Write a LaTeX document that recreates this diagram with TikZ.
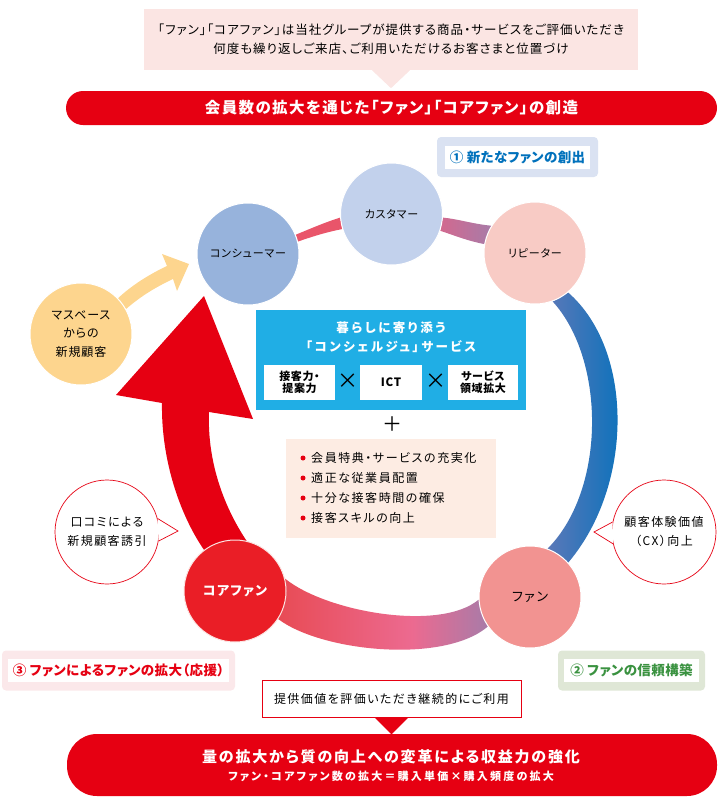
\documentclass[tikz,border=0pt]{standalone}
\usepackage{fontspec}
\setmainfont[RawFeature={+palt}]{Noto Sans CJK JP}
\usetikzlibrary{calc,backgrounds}
\definecolor{brandred}{HTML}{E60012}
\definecolor{coralband}{HTML}{E9556A}
\definecolor{notepink}{HTML}{FBE5E3}
\definecolor{peach}{HTML}{FDECE3}
\definecolor{skyblue}{HTML}{20AEE5}
\definecolor{consumerblue}{HTML}{97B3DC}
\definecolor{customerblue}{HTML}{C2D1EC}
\definecolor{repeaterpink}{HTML}{F8CBC5}
\definecolor{fanrose}{HTML}{F29391}
\definecolor{corered}{HTML}{EA1E26}
\definecolor{massyellow}{HTML}{FDD58E}
\definecolor{fanblue}{HTML}{0071BC}
\definecolor{fangreen}{HTML}{3A9240}
\definecolor{badgeblue}{HTML}{DAE2F2}
\definecolor{badgegreen}{HTML}{DFE7D6}
\definecolor{badgepink}{HTML}{FBE8EA}
\definecolor{bandpurple}{HTML}{A87BA8}
\definecolor{bandpink}{HTML}{EC6A90}
\definecolor{bandmauve}{HTML}{D2698F}
\definecolor{bandcobalt}{HTML}{5A78B8}
\definecolor{bandsalmon}{HTML}{E84B55}
\pgfdeclarehorizontalshading{fanband}{100bp}{color(0bp)=(bandsalmon); color(25bp)=(bandsalmon); color(57bp)=(bandpink); color(75bp)=(bandpurple); color(100bp)=(bandpurple)}
\newcommand{\jp}[3]{\fontsize{#1}{#2}\selectfont\addfontfeature{LetterSpace=#3}}
\tikzset{
  stage/.style={circle, minimum size=102pt, inner sep=0pt, draw=white, line width=1pt, fill=#1, align=center, font=\jp{11}{15}{7}},
  bar/.style={fill=brandred, text=white, align=center, inner sep=0pt},
  badgeback/.style={rounded corners=4pt, inner sep=0pt, minimum height=40pt, fill=#1},
  badgeface/.style={inner sep=0pt, minimum height=23pt, fill=white, text=#1, font=\bfseries\jp{13.5}{16}{3}},
  cell/.style={fill=white, inner sep=0pt, minimum height=35pt, align=center, font=\bfseries\jp{11}{12}{6}},
  bubble/.style={circle, minimum size=104pt, inner sep=0pt, draw=brandred, line width=.7pt, fill=white, align=center, font=\jp{12}{19}{12}},
  item/.style={anchor=west, inner sep=0pt, font=\jp{12}{14}{13}},
  dot/.style={circle, fill=brandred, minimum size=5pt, inner sep=0pt}
}
\begin{document}
\begin{tikzpicture}[x=1pt, y=-1pt]
\useasboundingbox (0,0) rectangle (722,806);
\node[fill=notepink, minimum width=494pt, minimum height=61pt, inner sep=0pt, align=center, font=\jp{12.5}{19}{8}] (topnote) at (391,39.5)
  {「ファン」「コアファン」は当社グループが提供する商品・サービスをご評価いただき\\何度も繰り返しご来店、ご利用いただけるお客さまと位置づけ};
\fill[notepink] ($(topnote.south)+(-19,0)$) -- ($(topnote.south)+(19,0)$) -- ($(topnote.south)+(0,18)$) -- cycle;
\node[bar, rounded corners=17pt, minimum width=651pt, minimum height=34pt, font=\bfseries\jp{15.5}{18}{9}] (topbar) at (391.5,108)
  {会員数の拡大を通じた「ファン」「コアファン」の創造};
\node[badgeback=badgeblue, minimum width=161pt] (badgeoneback) at (517.5,157) {};
\node[badgeface=fanblue, minimum width=145pt] (badgeone) at (517.5,157) {① 新たなファンの創出};
\node[stage=consumerblue] (consumer) at (248,254) {コンシューマー};
\node[stage=customerblue] (customer) at (391.5,214) {カスタマー};
\node[stage=repeaterpink] (repeater) at (535,253) {リピーター};
\node[stage=fanrose, font=\jp{13}{15}{12}] (fan) at (530,597) {ファン};
\node[stage=corered, text=white, draw=notepink, font=\bfseries\jp{13}{15}{10}] (core) at (235,591) {コアファン};
\node[stage=massyellow, font=\jp{12}{18.5}{8}] (mass) at (81,334) {マスベース\\からの\\新規顧客};
\begin{scope}[on background layer]
\fill[coralband] (consumer.22) .. controls (312,228) and (326,222) .. (customer.184)
  -- (customer.197) .. controls (327,232) and (314,236) .. (consumer.14) -- cycle;
\shade[left color=bandmauve, right color=bandpurple] (customer.-4) .. controls (458,219) and (473,224) .. (repeater.148)
  -- (repeater.170) .. controls (468,241) and (456,236) .. (customer.-19) -- cycle;
\shade[left color=bandcobalt, right color=fanblue] (repeater.-50) .. controls (634,350) and (634,485) .. (fan.42)
  -- (fan.70) .. controls (606,490) and (606,360) .. (repeater.-70) -- cycle;
\shade[shading=fanband] (core.14) .. controls (326,612) and (440,632) .. (fan.183)
  -- (fan.215) .. controls (444,664) and (322,652) .. (core.-33) -- cycle;
\fill[brandred] (204,296) -- (253,419) -- (209,412) .. controls (207,465) and (226,510) .. (core.77)
  -- (core.127) .. controls (180,515) and (161,460) .. (162,403) -- (116,395) -- cycle;
\fill[massyellow] (mass.44) .. controls (132,285) and (150,274) .. (167,266) -- (162,254) -- (189,264) -- (177,291) -- (173,279)
  .. controls (156,287) and (141,296) .. (mass.29) -- cycle;
\end{scope}
\node[fill=skyblue, minimum width=270pt, minimum height=100pt, inner sep=0pt] (servicebox) at (391,360) {};
\node[inner sep=0pt, text=white, align=center, font=\bfseries\jp{12.5}{19}{20}] (servicetitle) at (391,337.5) {暮らしに寄り添う\\「コンシェルジュ」サービス};
\node[cell, minimum width=71pt] (talent) at (299.5,382.5) {接客力・\\提案力};
\node[cell, minimum width=62pt, font=\bfseries\jp{11.5}{12}{6}] (ict) at (391,382.5) {ICT};
\node[cell, minimum width=70pt] (domain) at (483,382.5) {サービス\\領域拡大};
\node[inner sep=0pt, font=\fontsize{21}{21}\selectfont] (timesa) at (347.5,381) {×};
\node[inner sep=0pt, font=\fontsize{21}{21}\selectfont] (timesb) at (435.5,381) {×};
\node[inner sep=0pt, font=\fontsize{20}{20}\selectfont] (plus) at (392,424.5) {＋};
\node[fill=peach, minimum width=210pt, minimum height=99pt, inner sep=0pt] (measures) at (391,488.5) {};
\foreach \i/\y/\t in {1/458/会員特典・サービスの充実化, 2/478/適正な従業員配置, 3/498/十分な接客時間の確保, 4/518/接客スキルの向上} {
  \node[dot] (dot\i) at (303,\y) {};
  \node[item] (item\i) at (311,\y) {\t};
}
\node[bubble] (wordofmouth) at (107,532) {口コミによる\\新規顧客誘引};
\coordinate (mouthleft) at (178,531);
\fill[white] (wordofmouth.15) -- (mouthleft) -- (wordofmouth.-10) -- cycle;
\draw[brandred, line width=.7pt] (wordofmouth.15) -- (mouthleft) -- (wordofmouth.-10);
\node[bubble] (experience) at (664,532) {顧客体験価値\\（CX）向上};
\coordinate (mouthright) at (594,532);
\fill[white] (experience.169) -- (mouthright) -- (experience.193) -- cycle;
\draw[brandred, line width=.7pt] (experience.169) -- (mouthright) -- (experience.193);
\node[badgeback=badgepink, minimum width=233pt] (badgethreeback) at (118.5,670.5) {};
\node[badgeface=brandred, minimum width=221pt] (badgethree) at (118.5,670.5) {③ ファンによるファンの拡大（応援）};
\node[badgeback=badgegreen, minimum width=147pt] (badgetwoback) at (631.5,670.5) {};
\node[badgeface=fangreen, minimum width=135pt] (badgetwo) at (631.5,670.5) {② ファンの信頼構築};
\node[fill=white, draw=brandred, line width=.8pt, minimum width=259pt, minimum height=37pt, inner sep=0pt, font=\jp{12}{14}{12}] (usage) at (391.5,698.5)
  {提供価値を評価いただき継続的にご利用};
\fill[brandred] ($(usage.south)+(-17,0)$) -- ($(usage.south)+(17,0)$) -- ($(usage.south)+(0,17)$) -- cycle;
\node[bar, rounded corners=30pt, minimum width=650pt, minimum height=62pt] (bottombar) at (392,765) {};
\node[inner sep=0pt, text=white, font=\bfseries\jp{15}{18}{12}] (bottomtitle) at (391,757) {量の拡大から質の向上への変革による収益力の強化};
\node[inner sep=0pt, text=white, font=\bfseries\jp{11}{14}{20}] (bottomsub) at (391,776) {ファン・コアファン数の拡大＝購入単価×購入頻度の拡大};
\end{tikzpicture}
\end{document}
